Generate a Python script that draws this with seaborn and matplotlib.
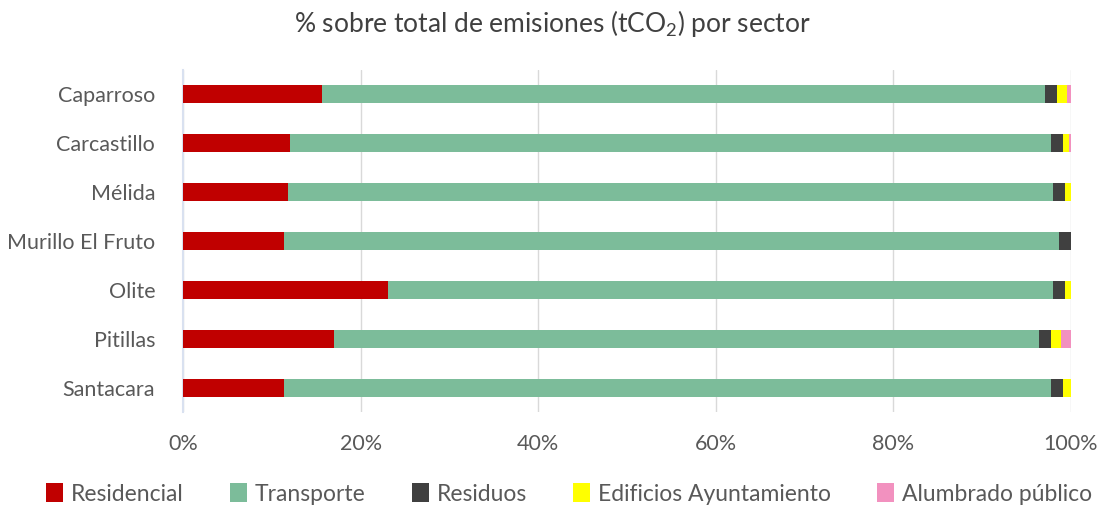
import matplotlib
matplotlib.use("Agg")
import matplotlib.pyplot as plt
import seaborn as sns
import pandas as pd
import numpy as np
from matplotlib.patches import Patch
from matplotlib.ticker import PercentFormatter

municipios = ["Caparroso", "Carcastillo", "Mélida", "Murillo El Fruto", "Olite", "Pitillas", "Santacara"]
sectores = ["Residencial", "Transporte", "Residuos", "Edificios Ayuntamiento", "Alumbrado público"]
residencial = [15.7, 12.1, 11.8, 11.4, 23.1, 17.0, 11.4]
transporte = [81.4, 85.6, 86.2, 87.2, 74.9, 79.4, 86.3]
residuos = [1.3, 1.4, 1.3, 1.4, 1.3, 1.4, 1.4]
edificios = [1.1, 0.7, 0.7, 0.0, 0.7, 1.1, 0.9]
alumbrado = [0.5, 0.2, 0.0, 0.0, 0.0, 1.1, 0.0]
colores = ["#C00000", "#7CBC9A", "#404040", "#FFFF00", "#F291BF"]

sns.set_theme(style="white")
plt.rcParams['font.family'] = ['Lato', 'DejaVu Sans']
plt.rcParams['mathtext.fontset'] = 'custom'
plt.rcParams['mathtext.rm'] = 'Lato'
plt.rcParams['mathtext.it'] = 'Lato'

series = [residencial, transporte, residuos, edificios, alumbrado]
vals = np.array(series, dtype=float)
totals = vals.sum(axis=0)
pct = vals / totals * 100
cum = np.cumsum(pct, axis=0)

fig = plt.figure(figsize=(11.05, 5.09), dpi=100)
ax = fig.add_axes([183/1105, 1 - 412/509, (1071-183)/1105, (412-70)/509])

for i in range(len(sectores) - 1, -1, -1):
    df = pd.DataFrame({"municipio": municipios, "valor": cum[i]})
    sns.barplot(data=df, y="municipio", x="valor", color=colores[i], orient="h",
                width=0.37, ax=ax, saturation=1, edgecolor="none", linewidth=0, zorder=3)

ax.set_xlim(0, 100)
ax.set_xticks([0, 20, 40, 60, 80, 100])
ax.xaxis.set_major_formatter(PercentFormatter(decimals=0))
ax.set_xlabel("")
ax.set_ylabel("")
ax.grid(axis="x", color="#D9D9D9", linewidth=1, zorder=0)
for s in ["top", "right", "bottom"]:
    ax.spines[s].set_visible(False)
ax.spines["left"].set_color("#D9E1F0")
ax.spines["left"].set_linewidth(1.5)
ax.tick_params(axis="both", length=0, labelsize=15.5, labelcolor="#595959")
ax.tick_params(axis="y", pad=20)
ax.tick_params(axis="x", pad=16)

fig.suptitle("% sobre total de emisiones (tCO$_2$) por sector", y=0.985, fontsize=19, color="#404040")

handles = [Patch(facecolor=c, edgecolor="none") for c in colores]
fig.legend(handles, sectores, loc="lower center", bbox_to_anchor=(0.515, -0.032), ncol=5,
           frameon=False, fontsize=16.5, labelcolor="#595959", handlelength=0.75, handleheight=0.9,
           handletextpad=0.35, columnspacing=2.0)

fig.savefig("out.png", dpi=100)
